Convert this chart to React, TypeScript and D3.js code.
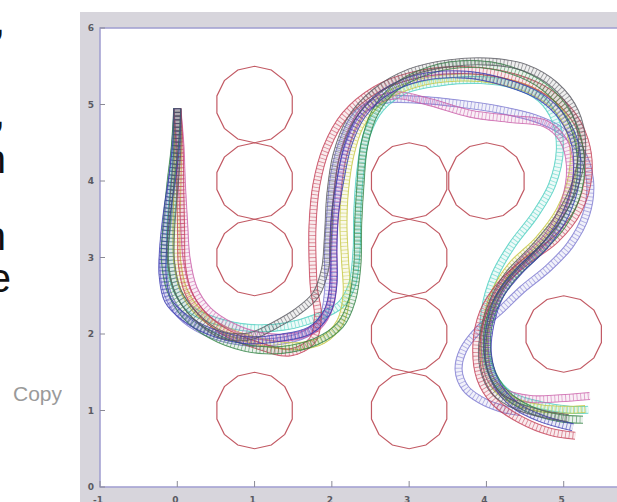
import React from "react";
import * as d3 from "d3";

const xTicks = [-1, 0, 1, 2, 3, 4, 5];
const yTicks = [0, 1, 2, 3, 4, 5, 6];

const obstacleX = [1, 1, 1, 1, 3, 3, 3, 3, 4, 5];
const obstacleY = [5, 4, 3, 1, 4, 3, 2, 1, 4, 2];
const obstacleR = 0.5;
const obstacleSides = 14;

type P = [number, number];

const seriesLavender: P[] = [
  [0, 4.95], [-0.03, 4.43], [-0.08, 3.88], [-0.14, 3.33], [-0.18, 2.9], [-0.13, 2.54],
  [0.04, 2.25], [0.36, 2.03], [0.82, 1.9], [1.27, 1.9], [1.66, 2.0], [1.88, 2.21],
  [1.95, 2.55], [1.95, 3.03], [1.98, 3.56], [2.03, 4.08], [2.15, 4.54], [2.34, 4.89],
  [2.69, 5.06], [3.14, 5.06], [3.66, 5.01], [4.18, 4.93], [4.63, 4.82], [4.95, 4.67],
  [5.21, 4.41], [5.34, 4.01], [5.29, 3.56], [5.08, 3.16], [4.8, 2.86], [4.46, 2.58],
  [4.18, 2.31], [3.89, 2.05], [3.7, 1.79], [3.64, 1.53], [3.73, 1.29], [3.92, 1.14],
  [4.18, 1.03], [4.44, 0.98],
];

const seriesCyan: P[] = [
  [0, 4.95], [-0.01, 4.41], [-0.05, 3.88], [-0.09, 3.36], [-0.09, 2.94], [-0.01, 2.58],
  [0.19, 2.31], [0.53, 2.16], [0.94, 2.08], [1.4, 2.1], [1.79, 2.21], [2.11, 2.38],
  [2.26, 2.64], [2.32, 3.1], [2.33, 3.62], [2.37, 4.14], [2.45, 4.6], [2.63, 4.95],
  [2.95, 5.19], [3.4, 5.29], [3.92, 5.32], [4.37, 5.25], [4.7, 5.08], [4.89, 4.8],
  [4.95, 4.41], [4.85, 3.95], [4.63, 3.56], [4.33, 3.16], [4.11, 2.77], [3.98, 2.31],
  [3.97, 1.86], [4.08, 1.46], [4.31, 1.2], [4.7, 1.07], [5.08, 1.01], [5.32, 1.01],
];

const seriesYellow: P[] = [
  [0, 4.95], [0.01, 4.41], [0, 3.88], [-0.01, 3.36], [0, 2.94], [0.08, 2.58],
  [0.27, 2.29], [0.62, 2.05], [1.07, 1.9], [1.53, 1.84], [1.88, 1.92], [2.11, 2.16],
  [2.19, 2.51], [2.17, 2.97], [2.15, 3.42], [2.17, 3.88], [2.24, 4.34], [2.37, 4.73],
  [2.63, 5.06], [3.08, 5.27], [3.6, 5.35], [4.11, 5.32], [4.57, 5.19], [4.93, 4.93],
  [5.11, 4.54], [5.11, 4.08], [4.95, 3.62], [4.67, 3.23], [4.33, 2.9], [4.11, 2.55],
  [4.0, 2.16], [3.97, 1.73], [4.08, 1.36], [4.33, 1.14], [4.7, 1.03], [5.08, 1.01],
  [5.28, 1.02],
];

const seriesMagenta: P[] = [
  [0, 4.95], [0.04, 4.47], [0.06, 3.95], [0.09, 3.42], [0.12, 2.99], [0.21, 2.6],
  [0.4, 2.31], [0.71, 2.1], [1.1, 1.97], [1.53, 1.97], [1.82, 2.1], [1.98, 2.38],
  [2.02, 2.77], [2.02, 3.23], [2.06, 3.75], [2.13, 4.27], [2.26, 4.67], [2.47, 4.99],
  [2.82, 5.12], [3.27, 5.03], [3.79, 4.88], [4.31, 4.81], [4.76, 4.75], [4.99, 4.54],
  [5.08, 4.21], [5.02, 3.75], [4.8, 3.29], [4.46, 2.94], [4.18, 2.58], [4.02, 2.18],
  [3.98, 1.79], [4.05, 1.42], [4.24, 1.23], [4.57, 1.15], [4.95, 1.16], [5.34, 1.19],
];

const seriesRed: P[] = [
  [0, 4.95], [0.03, 4.41], [0.04, 3.82], [0.05, 3.29], [0.06, 2.9], [0.14, 2.55],
  [0.3, 2.29], [0.58, 2.05], [1.01, 1.86], [1.46, 1.76], [1.75, 1.92], [1.82, 2.25],
  [1.77, 2.58], [1.75, 2.97], [1.75, 3.42], [1.8, 3.95], [1.93, 4.43], [2.17, 4.86],
  [2.56, 5.19], [3.01, 5.37], [3.6, 5.45], [4.18, 5.4], [4.7, 5.22], [5.06, 4.93],
  [5.27, 4.54], [5.32, 4.08], [5.19, 3.62], [4.89, 3.23], [4.5, 2.94], [4.18, 2.64],
  [3.96, 2.29], [3.87, 1.86], [3.92, 1.42], [4.11, 1.11], [4.44, 0.88], [4.83, 0.72],
  [5.15, 0.67],
];

const seriesGreen: P[] = [
  [0, 4.95], [-0.03, 4.47], [-0.09, 3.95], [-0.14, 3.42], [-0.16, 2.97], [-0.09, 2.58],
  [0.1, 2.25], [0.43, 1.99], [0.88, 1.82], [1.33, 1.79], [1.79, 1.9], [2.11, 2.12],
  [2.26, 2.44], [2.33, 2.9], [2.34, 3.42], [2.37, 3.95], [2.42, 4.47], [2.56, 4.9],
  [2.82, 5.22], [3.27, 5.45], [3.79, 5.53], [4.31, 5.45], [4.76, 5.22], [5.06, 4.86],
  [5.21, 4.41], [5.19, 3.88], [4.98, 3.42], [4.67, 3.07], [4.33, 2.73], [4.11, 2.38],
  [4.01, 1.99], [4.05, 1.56], [4.24, 1.23], [4.57, 1.01], [4.95, 0.9], [5.25, 0.88],
];

const seriesBlue: P[] = [
  [0, 4.95], [-0.01, 4.54], [-0.06, 4.08], [-0.13, 3.62], [-0.18, 3.16], [-0.19, 2.77],
  [-0.12, 2.44], [0.1, 2.21], [0.43, 2.03], [0.88, 1.92], [1.33, 1.95], [1.72, 2.05],
  [1.94, 2.29], [2.02, 2.64], [2.02, 3.1], [2.04, 3.56], [2.11, 4.01], [2.21, 4.47],
  [2.39, 4.86], [2.69, 5.16], [3.14, 5.35], [3.73, 5.39], [4.24, 5.29], [4.7, 5.1],
  [4.99, 4.82], [5.15, 4.47], [5.16, 4.01], [5.02, 3.56], [4.76, 3.16], [4.44, 2.84],
  [4.18, 2.51], [4.05, 2.12], [4.02, 1.73], [4.14, 1.33], [4.37, 1.07], [4.7, 0.9],
  [5.12, 0.78],
];

const seriesBlack: P[] = [
  [0, 4.95], [0, 4.41], [-0.04, 3.88], [-0.08, 3.36], [-0.08, 2.94], [0.01, 2.55],
  [0.23, 2.24], [0.58, 1.99], [0.94, 1.97], [1.27, 2.12], [1.55, 2.29], [1.79, 2.51],
  [1.91, 2.84], [1.95, 3.29], [1.98, 3.82], [2.06, 4.34], [2.24, 4.8], [2.56, 5.16],
  [3.01, 5.42], [3.53, 5.54], [4.05, 5.56], [4.5, 5.48], [4.89, 5.25], [5.15, 4.9],
  [5.24, 4.47], [5.16, 3.99], [4.93, 3.52], [4.61, 3.12], [4.28, 2.77], [4.08, 2.41],
  [3.96, 1.99], [3.96, 1.56], [4.11, 1.24], [4.41, 1.05], [4.76, 0.95], [5.06, 0.9],
];

const seriesList: { data: P[]; color: string }[] = [
  { data: seriesLavender, color: "#7a76cf" },
  { data: seriesCyan, color: "#48cdbf" },
  { data: seriesYellow, color: "#c4c63c" },
  { data: seriesMagenta, color: "#c85aa6" },
  { data: seriesRed, color: "#c23a52" },
  { data: seriesGreen, color: "#2d8040" },
  { data: seriesBlue, color: "#3535ad" },
  { data: seriesBlack, color: "#55555d" },
];

const W = 617;
const H = 502;

export default function App() {
  const x = d3.scaleLinear().domain([-1, 6]).range([100, 641]);
  const y = d3.scaleLinear().domain([0, 6]).range([487, 28]);

  const line = d3
    .line<P>()
    .x((d) => x(d[0]))
    .y((d) => y(d[1]))
    .curve(d3.curveCatmullRom.alpha(0.5));

  const poly = (cx: number, cy: number) => {
    const pts: P[] = d3.range(obstacleSides + 1).map((i) => {
      const a = (i / obstacleSides) * 2 * Math.PI + Math.PI / obstacleSides;
      return [cx + obstacleR * Math.cos(a), cy + obstacleR * Math.sin(a)];
    });
    return d3.line<P>().x((d) => x(d[0])).y((d) => y(d[1]))(pts) || "";
  };

  const paths = seriesList.map((s) => line(s.data) || "");

  return (
    <svg
      width={W}
      height={H}
      style={{ position: "absolute", left: 0, top: 0, background: "#ffffff" }}
    >
      <defs>
        <clipPath id="copyClip">
          <rect x={0} y={0} width={62} height={H} />
        </clipPath>
        <clipPath id="axClip">
          <rect x={100} y={28} width={W - 100} height={459} />
        </clipPath>
        <filter id="soft" x="-5%" y="-5%" width="110%" height="110%">
          <feGaussianBlur stdDeviation="0.55" />
        </filter>
        {paths.map((d, i) => (
          <mask key={"m" + i} id={"rail" + i} maskUnits="userSpaceOnUse" x={0} y={0} width={W} height={H}>
            <path d={d} fill="none" stroke="#fff" strokeWidth={8.2} />
            <path d={d} fill="none" stroke="#000" strokeWidth={5.9} />
          </mask>
        ))}
      </defs>

      {/* cropped slide text on the left */}
      <g fontFamily="'Liberation Sans', Arial, sans-serif" fontSize={40} fill="#111">
        <text x={5} y={34} textAnchor="end">,</text>
        <text x={5} y={126} textAnchor="end">,</text>
        <text x={6} y={173} textAnchor="end">n</text>
        <text x={6} y={250} textAnchor="end">n</text>
        <text x={11} y={292} textAnchor="end">e</text>
      </g>
      <text
        x={13}
        y={401}
        fontFamily="'Liberation Sans', Arial, sans-serif"
        fontSize={21}
        fill="#9a9a9a"
        clipPath="url(#copyClip)"
      >
        Copy
      </text>

      {/* figure background */}
      <rect x={80} y={12} width={W - 80} height={H - 12} fill="#d7d5dc" />
      {/* axes */}
      <rect x={100} y={28} width={W - 100 + 4} height={459} fill="#ffffff" stroke="#a4a2d2" strokeWidth={1.6} />

      {/* ticks */}
      <g stroke="#8a8a96" strokeWidth={1}>
        {xTicks.map((t) => (
          <line key={"xt" + t} x1={x(t)} x2={x(t)} y1={487} y2={481} />
        ))}
        {yTicks.map((t) => (
          <line key={"yt" + t} x1={100} x2={105} y1={y(t)} y2={y(t)} />
        ))}
      </g>
      <g
        fontFamily="'DejaVu Sans', sans-serif"
        fontSize={9}
        fontWeight="bold"
        fill="#5a5a62"
      >
        {xTicks.map((t) => (
          <text key={"xl" + t} x={x(t) - 2} y={503} textAnchor="middle">
            {t}
          </text>
        ))}
        {yTicks.map((t) => (
          <text key={"yl" + t} x={94} y={y(t) + 3} textAnchor="end">
            {t}
          </text>
        ))}
      </g>

      {/* obstacles */}
      <g clipPath="url(#axClip)" filter="url(#soft)">
        {obstacleX.map((cx, i) => (
          <path
            key={"ob" + i}
            d={poly(cx, obstacleY[i])}
            fill="none"
            stroke="#c25a64"
            strokeWidth={1.2}
          />
        ))}
      </g>

      {/* trajectories */}
      <g clipPath="url(#axClip)" filter="url(#soft)">
        {seriesList.map((s, i) => {
          const d = paths[i];
          return (
            <g key={"s" + i}>
              <path d={d} fill="none" stroke={s.color} strokeWidth={7.5} strokeOpacity={0.1} />
              <path
                d={d}
                fill="none"
                stroke={s.color}
                strokeWidth={9}
                strokeOpacity={0.75}
                mask={`url(#rail${i})`}
              />
              <path
                d={d}
                fill="none"
                stroke={s.color}
                strokeWidth={6.6}
                strokeOpacity={0.55}
                strokeDasharray="0.9 2.8"
              />
            </g>
          );
        })}
      </g>
    </svg>
  );
}
